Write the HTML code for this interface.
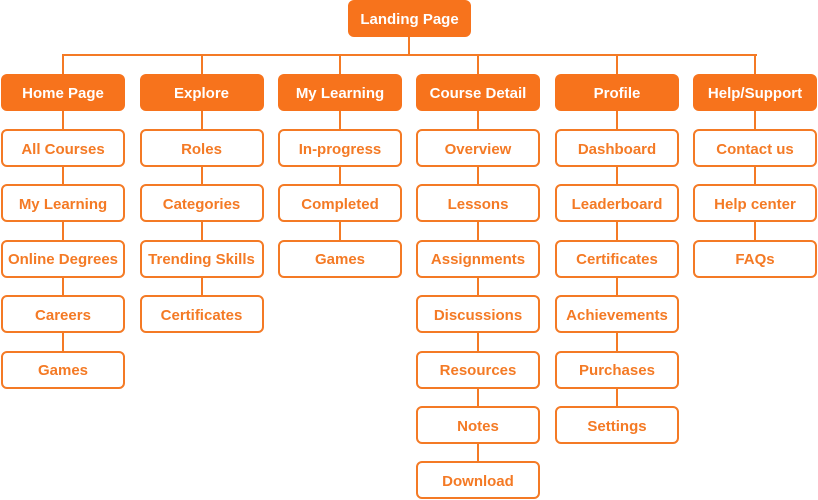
<!DOCTYPE html>
<html><head><style>
body{margin:0;width:818px;height:500px;background:#fff;position:relative;overflow:hidden;font-family:"Liberation Sans",sans-serif}
.b{position:absolute;box-sizing:border-box;display:flex;align-items:center;justify-content:center;font-size:15px;border-radius:6px;white-space:nowrap;padding-top:2px}
.h{background:#f7731c;color:#fff;font-weight:bold;font-size:15px}
.c{border:2px solid #f47a25;color:#f47a25;background:#fff;font-weight:bold;font-size:15px}
.l{position:absolute;background:#f47a25}
</style></head><body>
<div class="l" style="left:408px;top:34px;width:2px;height:22px"></div>
<div class="l" style="left:62px;top:54px;width:695px;height:2px"></div>
<div id="root"></div>
<div class="b h" style="left:348px;top:0;width:123px;height:37px">Landing Page</div>
<script>
var cols=[["Home Page",["All Courses","My Learning","Online Degrees","Careers","Games"]],
["Explore",["Roles","Categories","Trending Skills","Certificates"]],
["My Learning",["In-progress","Completed","Games"]],
["Course Detail",["Overview","Lessons","Assignments","Discussions","Resources","Notes","Download"]],
["Profile",["Dashboard","Leaderboard","Certificates","Achievements","Purchases","Settings"]],
["Help/Support",["Contact us","Help center","FAQs"]]];
var xs=[1,139.5,278,416,555,693],h="";
cols.forEach(function(c,i){var x=xs[i],cx=x+62;
var last=129+55.4*(c[1].length-1);
h+='<div class="l" style="left:'+(cx-1)+'px;top:55px;width:2px;height:'+(last-50)+'px"></div>';
h+='<div class="b h" style="left:'+x+'px;top:74px;width:124px;height:37px">'+c[0]+'</div>';
c[1].forEach(function(t,j){var y=129+55.4*j;
h+='<div class="b c" style="left:'+x+'px;top:'+y+'px;width:124px;height:38px">'+t+'</div>';});
});
document.getElementById('root').innerHTML=h;
</script>
</body></html>
